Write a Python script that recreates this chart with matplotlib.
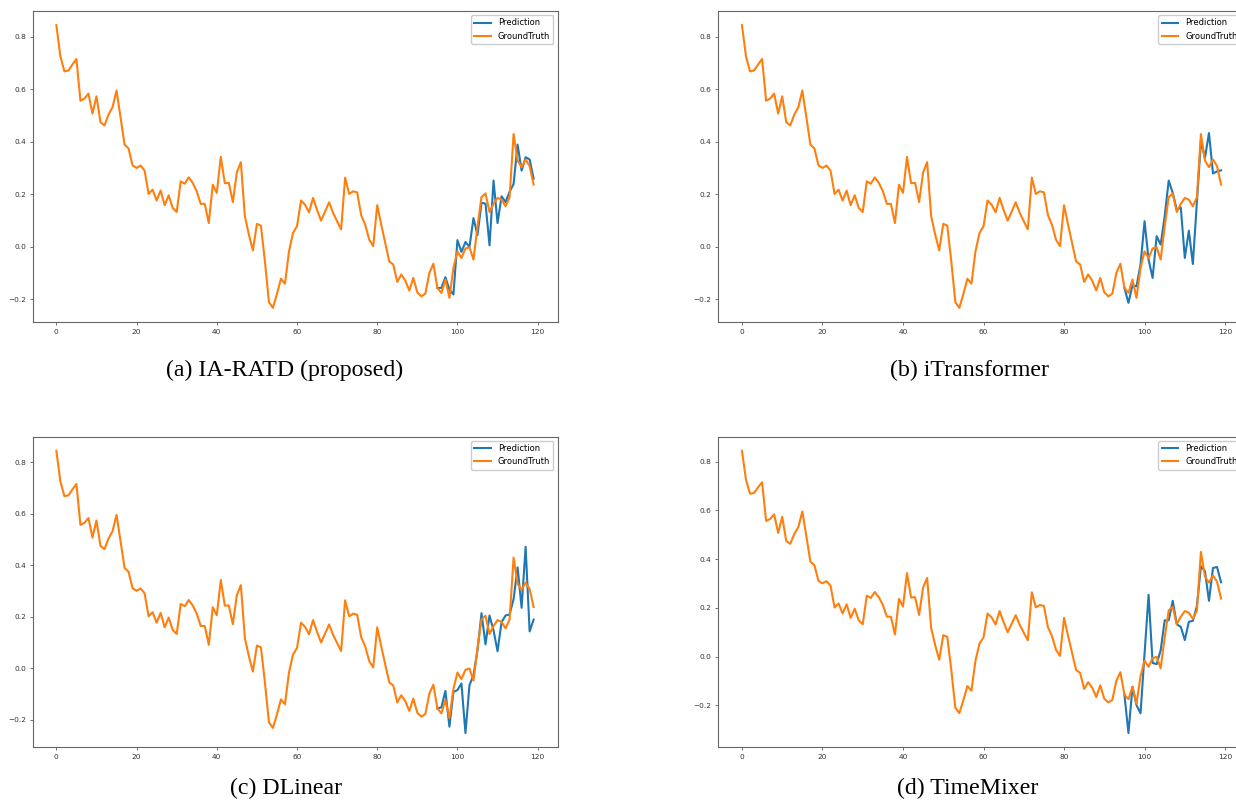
import matplotlib
matplotlib.use("Agg")
import matplotlib.pyplot as plt
import numpy as np

# ground truth series (shared by all four panels)
ground_truth = [
    0.845, 0.726, 0.669, 0.672, 0.695, 0.716, 0.557, 0.565, 0.584, 0.508,
    0.574, 0.475, 0.463, 0.504, 0.532, 0.596, 0.494, 0.390, 0.375, 0.311,
    0.301, 0.310, 0.291, 0.202, 0.218, 0.177, 0.215, 0.159, 0.197, 0.149,
    0.133, 0.250, 0.241, 0.265, 0.244, 0.212, 0.164, 0.164, 0.091, 0.237,
    0.206, 0.343, 0.243, 0.244, 0.171, 0.284, 0.323, 0.117, 0.047, -0.013,
    0.088, 0.081, -0.055, -0.210, -0.232, -0.179, -0.121, -0.140, -0.017, 0.053,
    0.079, 0.177, 0.161, 0.132, 0.187, 0.141, 0.100, 0.135, 0.170, 0.130,
    0.098, 0.067, 0.264, 0.202, 0.212, 0.208, 0.121, 0.085, 0.028, 0.003,
    0.159, 0.085, 0.015, -0.055, -0.067, -0.133, -0.105, -0.128, -0.166, -0.118,
    -0.173, -0.188, -0.178, -0.099, -0.064, -0.156, -0.175, -0.124, -0.194, -0.080,
    -0.017, -0.042, -0.006, -0.001, -0.048, 0.078, 0.190, 0.204, 0.133, 0.164,
    0.187, 0.180, 0.155, 0.189, 0.430, 0.329, 0.304, 0.333, 0.308, 0.238,
]

# predictions start at step 95 (last input point)
pred_start = 95
pred_ia_ratd = [
    -0.156, -0.156, -0.115, -0.162, -0.181, 0.026, -0.019, 0.019, 0.000, 0.110,
    0.045, 0.168, 0.165, 0.006, 0.253, 0.091, 0.193, 0.171, 0.210, 0.240,
    0.390, 0.291, 0.342, 0.333, 0.260,
]
pred_itransformer = [
    -0.156, -0.213, -0.146, -0.150, -0.067, 0.098, -0.048, -0.118, 0.041, 0.009,
    0.117, 0.253, 0.206, 0.142, 0.151, -0.042, 0.062, -0.065, 0.170, 0.403,
    0.339, 0.434, 0.280, 0.288, 0.292,
]
pred_dlinear = [
    -0.156, -0.152, -0.088, -0.227, -0.092, -0.085, -0.059, -0.252, -0.066, -0.027,
    0.070, 0.214, 0.093, 0.205, 0.147, 0.066, 0.179, 0.205, 0.209, 0.269,
    0.392, 0.235, 0.472, 0.143, 0.189,
]
pred_timemixer = [
    -0.156, -0.314, -0.124, -0.199, -0.233, 0.012, 0.254, -0.026, -0.031, 0.026,
    0.149, 0.149, 0.229, 0.133, 0.122, 0.068, 0.143, 0.147, 0.208, 0.371,
    0.351, 0.229, 0.364, 0.368, 0.305,
]

captions = ["(a) IA-RATD (proposed)", "(b) iTransformer", "(c) DLinear", "(d) TimeMixer"]
predictions = [pred_ia_ratd, pred_itransformer, pred_dlinear, pred_timemixer]

W, H = 1236, 805
fig = plt.figure(figsize=(W / 100, H / 100), dpi=100)

# axes boxes in pixels: left, top, width, height (right column runs past the page edge)
boxes = [(32.5, 11, 525, 311), (718, 11, 527, 311),
         (32.5, 436.7, 525, 310.5), (718, 436.7, 527, 310.5)]
caption_pos = [(285, 370), (969, 370), (286, 788), (968, 788)]

t = np.arange(len(ground_truth))
for box, pred, cap, cpos in zip(boxes, predictions, captions, caption_pos):
    l, top, w, h = box
    ax = fig.add_axes([l / W, (H - top - h) / H, w / W, h / H])
    tp = np.arange(pred_start, pred_start + len(pred))
    ax.plot(tp, pred, color="#1f77b4", lw=1.5, label="Prediction")
    ax.plot(t, ground_truth, color="#ff7f0e", lw=1.5, label="GroundTruth")
    ax.set_xticks([0, 20, 40, 60, 80, 100, 120])
    ax.tick_params(labelsize=5.3, length=2.2, width=0.6, pad=2.5,
                   colors="0.35", labelcolor="0.2")
    for s in ax.spines.values():
        s.set_linewidth(0.8)
        s.set_color("0.4")
    ax.legend(loc="upper right", fontsize=6, handlelength=2.0,
              borderaxespad=0.5, framealpha=1.0)
    fig.text(cpos[0] / W, 1 - cpos[1] / H, cap, ha="center", va="center",
             family="Liberation Serif", fontsize=17.2)

fig.savefig("out.png", dpi=100)
